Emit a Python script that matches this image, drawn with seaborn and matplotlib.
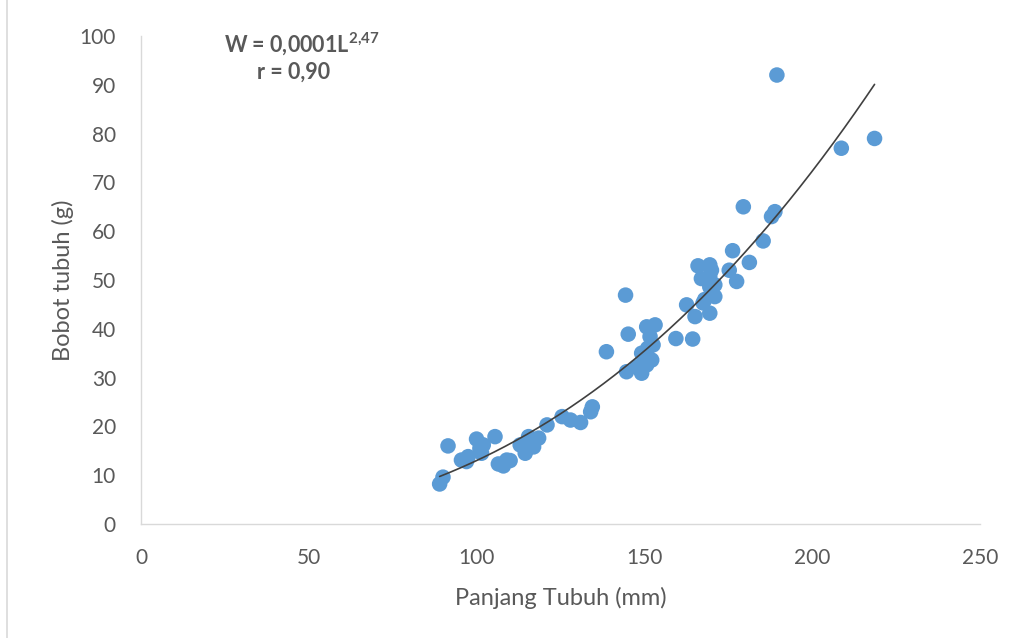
import numpy as np
import pandas as pd
import matplotlib
matplotlib.use('Agg')
import matplotlib.pyplot as plt
import seaborn as sns
from matplotlib.patches import Rectangle

# body length (mm) and body weight (g)
panjang = [89, 90, 91.5, 95.5, 97.5, 97, 100, 101, 102, 101.5, 105.5, 106.5, 108, 109, 110,
           113, 114.5, 115.5, 117, 118.5, 121, 125.5, 128, 131, 134, 134.5,
           138.7, 144.4, 145.2, 144.7, 147.7, 149.2, 149.2, 150.7, 150.7, 151.7, 152.2, 152.6,
           153.2, 150, 151, 159.4, 162.6, 164.4, 165.1, 166, 167, 167.5, 169.5, 169.5, 169.5,
           169.5, 171, 171, 168, 170, 175.3, 176.3, 177.5, 179.5, 181.3, 185.4, 187.9, 188.9,
           189.5, 208.7, 218.6]
bobot = [8.2, 9.6, 16, 13.1, 13.8, 12.8, 17.4, 15.5, 16.2, 14.5, 17.9, 12.3, 11.9, 13.1, 13,
         16.2, 14.5, 17.9, 15.8, 17.6, 20.3, 22, 21.3, 20.8, 23, 24,
         35.3, 46.9, 38.9, 31.2, 32.2, 35, 30.9, 40.4, 32.6, 38.4, 33.6, 36.7,
         40.8, 34, 36, 38, 44.9, 37.9, 42.5, 52.9, 50.3, 45.3, 53.1, 50.7, 48.6,
         43.2, 46.6, 49, 46, 52, 52, 56, 49.7, 65, 53.6, 58, 63, 64,
         92, 77, 79]

df = pd.DataFrame({'Panjang': panjang, 'Bobot': bobot})

# power trendline, fitted the way Excel does (linear fit in log-log space)
b, log_a = np.polyfit(np.log(df['Panjang']), np.log(df['Bobot']), 1)
xs = np.linspace(df['Panjang'].min(), df['Panjang'].max(), 200)
trend = pd.DataFrame({'x': xs, 'y': np.exp(log_a) * xs ** b})

sns.set_style('white')
plt.rcParams['font.family'] = ['Lato', 'DejaVu Sans']
plt.rcParams['mathtext.fontset'] = 'custom'
plt.rcParams['mathtext.bf'] = 'Lato:bold'
plt.rcParams['mathtext.rm'] = 'Lato'

fig = plt.figure(figsize=(10.12, 6.38), dpi=100)
ax = fig.add_axes([0.1393, 0.1787, 0.8290, 0.7649])

sns.scatterplot(data=df, x='Panjang', y='Bobot', ax=ax, color='#5B9BD5', s=125,
                edgecolor='none', zorder=2)
sns.lineplot(data=trend, x='x', y='y', ax=ax, color='#404040', linewidth=1.2, zorder=3)

ax.set_xlim(0, 250)
ax.set_ylim(0, 100)
ax.set_xticks(range(0, 251, 50))
ax.set_yticks(range(0, 101, 10))
ax.tick_params(axis='both', length=0, labelsize=15, colors='#595959')
ax.tick_params(axis='x', pad=17)
ax.tick_params(axis='y', pad=18)
ax.set_xlabel('Panjang Tubuh (mm)', fontsize=17, color='#595959', labelpad=14)
ax.set_ylabel('Bobot tubuh (g)', fontsize=17, color='#595959', labelpad=4)
for side in ['top', 'right']:
    ax.spines[side].set_visible(False)
for side in ['left', 'bottom']:
    ax.spines[side].set_color('#D9D9D9')
    ax.spines[side].set_linewidth(1.0)

ax.text(0.192, 0.985, r'W = 0,0001L$^{\mathbf{2{,}47}}$', transform=ax.transAxes,
        ha='center', va='center', fontsize=15.5, fontweight='bold', color='#595959')
ax.text(0.182, 0.926, 'r = 0,90', transform=ax.transAxes,
        ha='center', va='center', fontsize=15.5, fontweight='bold', color='#595959')

# chart-area border
fig.patches.append(Rectangle((7 / 1012, -0.1), 1.2, 1.2, transform=fig.transFigure,
                             fill=False, edgecolor='#D9D9D9', linewidth=1.2))

fig.savefig('out.png', dpi=100, facecolor='white')
